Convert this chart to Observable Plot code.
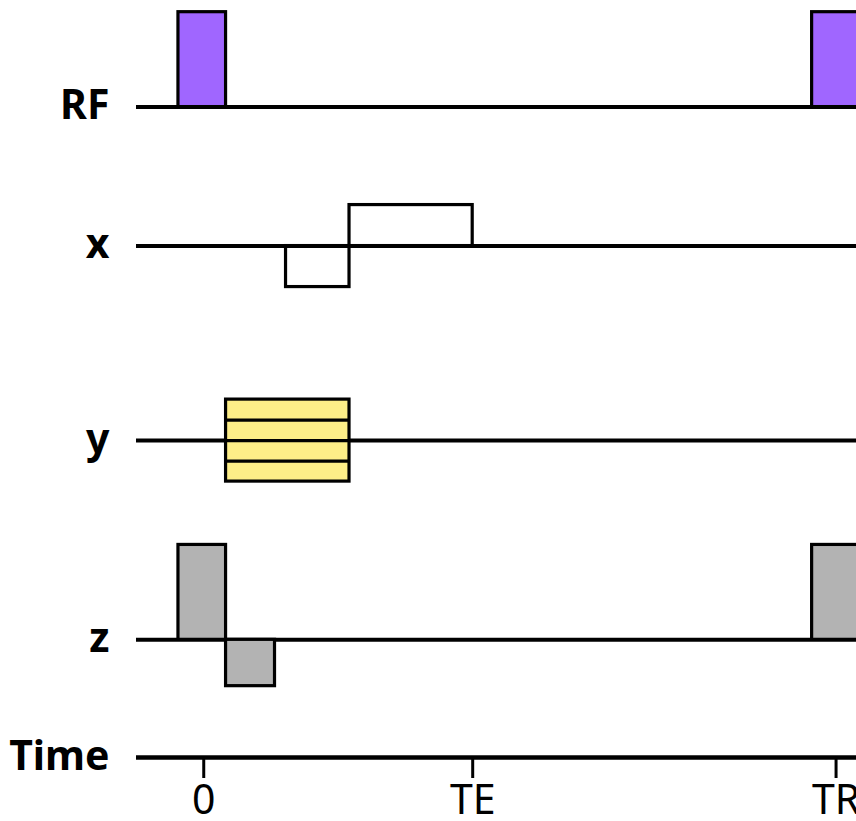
<!DOCTYPE html>
<html>
<head>
<meta charset="utf-8">
<script src="https://cdn.jsdelivr.net/npm/d3@7"></script>
<script src="https://cdn.jsdelivr.net/npm/@observablehq/plot@0.6"></script>
<style>
  html, body { margin: 0; padding: 0; background: white; overflow: hidden; }
</style>
</head>
<body>
<div id="chart"></div>
<script>
// ---- Data ----
const rowLabels = ["RF", "x", "y", "z", "Time"];

// RF pulses (time units, TE = 10)
const rfStart = [-0.94, 22.62];
const rfEnd   = [0.83, 24.39];
const rfAmp   = [4.63, 4.63];

// x (readout) gradient lobes
const gxStart = [3.06, 5.42];
const gxEnd   = [5.42, 10.0];
const gxAmp   = [-2, 2];

// y (phase encode) gradient table
const gyStart = 0.83;
const gyEnd   = 5.42;
const gySteps = [-2, -1, 0, 1, 2];

// z (slice select) gradient lobes
const gzStart = [-0.94, 0.83, 22.62];
const gzEnd   = [0.83, 2.65, 24.39];
const gzAmp   = [4.63, -2.26, 4.63];

// time axis
const timeTicks  = [0, 10, 23.51];
const tickLabels = ["0", "TE", "TR"];

// ---- Layout (row baselines in y units) ----
const xMin = -2.5, xMax = 24.27;
const base = {RF: 31.73, x: 24.95, y: 15.46, z: 5.74, Time: 0};

const rfData = rfStart.map((s, i) => ({x1: s, x2: rfEnd[i], y1: base.RF, y2: base.RF + rfAmp[i]}));
const gxData = gxStart.map((s, i) => ({x1: s, x2: gxEnd[i], y1: base.x, y2: base.x + gxAmp[i]}));
const gyBox  = [{x1: gyStart, x2: gyEnd, y1: base.y + d3.min(gySteps), y2: base.y + d3.max(gySteps)}];
const gyLines = gySteps.slice(1, -1).map(k => ({y: base.y + k}));
const gzData = gzStart.map((s, i) => ({x1: s, x2: gzEnd[i], y1: base.z, y2: base.z + gzAmp[i]}));
const rowData = ["RF", "x", "y", "z"].map(r => ({y: base[r]}));
const labelData = rowLabels.map(r => ({label: r, y: base[r]}));

const chart = Plot.plot({
  width: 856,
  height: 821,
  marginLeft: 136,
  marginRight: 0,
  marginTop: 0,
  marginBottom: 64,
  style: {fontFamily: "'Noto Sans', sans-serif", fontSize: "41px", background: "white"},
  x: {
    domain: [xMin, xMax],
    ticks: timeTicks,
    tickFormat: d => tickLabels[timeTicks.indexOf(d)],
    tickSize: 21,
    tickPadding: 6,
    label: null
  },
  y: {domain: [0, 36.93], axis: null},
  marks: [
    // row baselines
    Plot.ruleY(rowData, {y: "y", x1: xMin, x2: xMax, stroke: "black", strokeWidth: 4}),
    // time axis line
    Plot.ruleY([0], {y: d => base.Time, x1: xMin, x2: xMax, stroke: "black", strokeWidth: 4.5}),
    // RF pulses
    Plot.rect(rfData, {x1: "x1", x2: "x2", y1: "y1", y2: "y2", fill: "#a066ff", stroke: "black", strokeWidth: 3.2, clip: true}),
    // x gradient
    Plot.rect(gxData, {x1: "x1", x2: "x2", y1: "y1", y2: "y2", fill: "none", stroke: "black", strokeWidth: 3.2}),
    // y phase-encode table
    Plot.rect(gyBox, {x1: "x1", x2: "x2", y1: "y1", y2: "y2", fill: "#fdee88", stroke: "black", strokeWidth: 3.2}),
    Plot.ruleY(gyLines, {y: "y", x1: gyStart, x2: gyEnd, stroke: "black", strokeWidth: 3.2}),
    // z gradient
    Plot.rect(gzData, {x1: "x1", x2: "x2", y1: "y1", y2: "y2", fill: "#b3b3b3", stroke: "black", strokeWidth: 3.2, clip: true}),
    // row labels
    Plot.text(labelData, {
      y: "y", text: "label", frameAnchor: "left", textAnchor: "end", dx: -27, dy: -1,
      fontWeight: "bold", fontSize: 41, fill: "black"
    })
  ]
});

d3.select(chart).selectAll('[aria-label^="x-axis"] line, [aria-label^="x-axis"] path')
  .attr("stroke-width", 3).attr("stroke", "black");
d3.select(chart).selectAll('[aria-label^="x-axis"] text, [aria-label^="x-axis"]')
  .attr("font-size", 41).style("font-size", "41px").style("font-family", "'Noto Sans', sans-serif");

document.getElementById("chart").appendChild(chart);
</script>
</body>
</html>
